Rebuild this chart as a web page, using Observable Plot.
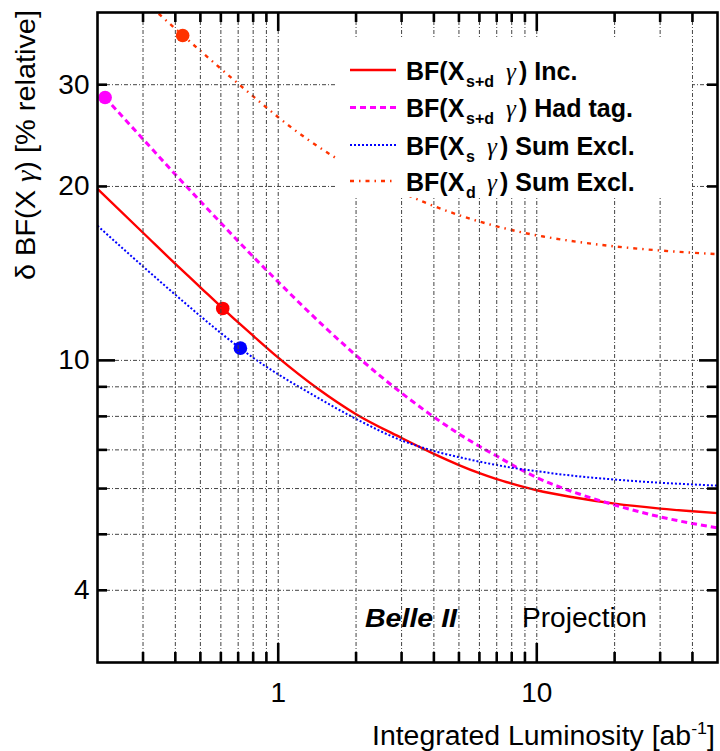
<!DOCTYPE html>
<html>
<head>
<meta charset="utf-8">
<script src="https://cdn.jsdelivr.net/npm/d3@7"></script>
<script src="https://cdn.jsdelivr.net/npm/@observablehq/plot@0.6"></script>
<style>
  html, body { margin: 0; padding: 0; background: #fff; }
  #chart svg { display: block; }
</style>
</head>
<body>
<div id="chart"></div>
<script>
// ---------------- data ----------------
// BF(X_{s+d} γ) Inc.
const incX = [0.2, 0.3, 0.4, 0.5, 0.6, 0.7, 0.8, 1.0, 1.42, 2, 3, 4, 5, 6, 7, 8, 10, 14, 20, 30, 40, 50];
const incY = [19.8, 16.63, 14.69, 13.38, 12.39, 11.63, 11.03, 10.11, 8.94, 8.07, 7.34, 6.89, 6.59, 6.38, 6.23, 6.12, 5.96, 5.79, 5.65, 5.54, 5.48, 5.44];
// BF(X_{s+d} γ) Had tag.
const hadX = [0.214, 0.3, 0.4, 0.5, 0.6, 0.7, 0.86, 1, 1.5, 2, 3, 4, 5, 6, 7, 8, 9, 10, 14, 20, 30, 40, 50];
const hadY = [28.5, 24.15, 20.98, 18.85, 17.29, 16.08, 14.63, 13.67, 11.46, 10.2, 8.78, 7.98, 7.46, 7.1, 6.83, 6.6, 6.42, 6.27, 5.91, 5.62, 5.36, 5.22, 5.13];
// BF(X_s γ) Sum Excl.
const sxX = [0.2, 0.3, 0.4, 0.5, 0.6, 0.714, 0.86, 1.0, 1.42, 2, 3, 4, 5, 6, 7, 8, 10, 14, 20, 30, 40, 50];
const sxY = [17.1, 14.54, 12.99, 11.93, 11.15, 10.49, 9.88, 9.46, 8.62, 7.92, 7.27, 6.97, 6.8, 6.68, 6.59, 6.52, 6.43, 6.31, 6.22, 6.14, 6.1, 6.07];
// BF(X_d γ) Sum Excl.
const sdX = [0.345, 0.427, 0.506, 0.604, 0.704, 0.811, 0.913, 0.997, 1.67, 3.65, 5.06, 5.95, 7, 8, 9, 10.6, 14.2, 19.7, 29.7, 39.9, 50];
const sdY = [39.8, 36.54, 34.17, 31.89, 30.06, 28.49, 27.25, 26.38, 22.4, 18.8, 17.81, 17.41, 17.06, 16.81, 16.61, 16.38, 16.05, 15.76, 15.5, 15.36, 15.27];
// current-luminosity markers
const markerX = [0.61, 0.214, 0.714, 0.427];
const markerY = [12.3, 28.5, 10.5, 36.5];

// ticks / labels
const xMinorTicks = [0.3, 0.4, 0.5, 0.6, 0.7, 0.8, 0.9, 2, 3, 4, 5, 6, 7, 8, 9, 20, 30, 40];
const xMajorTicks = [1, 10];
const xTickLabels = [1, 10];
const xGrid = [0.3, 0.4, 0.5, 0.6, 0.7, 0.8, 0.9, 1, 2, 3, 4, 5, 6, 7, 8, 9, 10, 20, 30, 40];
const yMinorTicks = [4, 5, 6, 7, 8, 9, 20, 30];
const yMajorTicks = [10];
const yTickLabels = [4, 10, 20, 30];
const yGrid = [4, 5, 6, 7, 8, 9, 10, 20, 30];

// ---------------- styles ----------------
const FONT = "'Liberation Sans', Arial, Helvetica, sans-serif";
const SERIF = "'Liberation Serif', 'DejaVu Serif', serif";
const styles = [
  {color: "#ff0000", width: 2.4, dash: null},            // Inc.
  {color: "#ff00ff", width: 3,   dash: "6,4"},           // Had tag
  {color: "#0000ff", width: 2,   dash: "2,2"},           // Xs sum excl
  {color: "#ff3300", width: 2.4, dash: "4,5,1.5,5"}      // Xd sum excl
];
const seriesXs = [incX, hadX, sxX, sdX];
const seriesYs = [incY, hadY, sxY, sdY];

const W = 720, H = 751, mL = 97, mR = 3, mT = 12, mB = 89;
const innerW = W - mL - mR, innerH = H - mT - mB;
const rows = (xs, ys) => xs.map((x, i) => ({x, y: ys[i]}));

const lineMarks = seriesXs.map((xs, k) =>
  Plot.line(rows(xs, seriesYs[k]), {
    x: "x", y: "y", curve: "monotone-x",
    stroke: styles[k].color, strokeWidth: styles[k].width,
    strokeDasharray: styles[k].dash, strokeLinecap: "butt"
  })
);
const dotMarks = markerX.map((x, k) =>
  Plot.dot([{x, y: markerY[k]}], {x: "x", y: "y", r: 6.8, fill: styles[k].color, stroke: "none"})
);

const gridStyle = {stroke: "#444", strokeWidth: 1, strokeDasharray: "4,2,1,2"};
const tickStyle = {stroke: "black", strokeWidth: 2.6};

const plot = Plot.plot({
  width: W, height: H,
  marginLeft: mL, marginRight: mR, marginTop: mT, marginBottom: mB,
  style: {background: "white", fontFamily: FONT, overflow: "visible"},
  x: {type: "log", domain: [0.2, 50], axis: null},
  y: {type: "log", domain: [3, 40], axis: null},
  marks: [
    ...lineMarks,
    ...dotMarks,
    Plot.ruleX(xGrid, {x: d => d, ...gridStyle, ariaLabel: "grid-x"}),
    Plot.ruleY(yGrid, {y: d => d, ...gridStyle, ariaLabel: "grid-y"}),
    // bottom / top ticks (inward)
    Plot.tickX(xMinorTicks, {x: d => d, insetTop: innerH - 10, ...tickStyle}),
    Plot.tickX(xMinorTicks, {x: d => d, insetBottom: innerH - 10, ...tickStyle}),
    Plot.tickX(xMajorTicks, {x: d => d, insetTop: innerH - 19, ...tickStyle}),
    Plot.tickX(xMajorTicks, {x: d => d, insetBottom: innerH - 19, ...tickStyle}),
    // left / right ticks (inward)
    Plot.tickY(yMinorTicks, {y: d => d, insetRight: innerW - 10, ...tickStyle}),
    Plot.tickY(yMinorTicks, {y: d => d, insetLeft: innerW - 10, ...tickStyle}),
    Plot.tickY(yMajorTicks, {y: d => d, insetRight: innerW - 18, ...tickStyle}),
    Plot.tickY(yMajorTicks, {y: d => d, insetLeft: innerW - 18, ...tickStyle}),
    Plot.frame({stroke: "black", strokeWidth: 2.6}),
    Plot.text(xTickLabels, {x: d => d, text: d => String(d), frameAnchor: "bottom", dy: 31,
      lineAnchor: "middle", fontSize: 28, fill: "black"}),
    Plot.text(yTickLabels, {y: d => d, text: d => String(d), frameAnchor: "left", dx: -8,
      textAnchor: "end", lineAnchor: "middle", fontSize: 28, fill: "black"})
  ]
});
document.getElementById("chart").appendChild(plot);

// ---------------- decorations: legend box, legend, titles ----------------
const svg = d3.select(plot);
const gridNode = plot.querySelector('[aria-label="grid-x"]');
const box = document.createElementNS("http://www.w3.org/2000/svg", "rect");
d3.select(box).attr("x", 337).attr("y", 38).attr("width", 355).attr("height", 159).attr("fill", "white");
if (gridNode) gridNode.parentNode.insertBefore(box, gridNode); else plot.appendChild(box);

const deco = svg.append("g").attr("font-family", FONT).attr("text-anchor", "start").attr("fill", "black");

const legendLabels = [
  {sub: "s+d", tail: ") Inc.", gx: 506},
  {sub: "s+d", tail: ") Had tag.", gx: 506},
  {sub: "s", tail: ") Sum Excl.", gx: 487},
  {sub: "d", tail: ") Sum Excl.", gx: 487}
];
const legendY = [70, 107.5, 145, 181];
legendLabels.forEach((L, k) => {
  const cy = legendY[k], st = styles[k];
  deco.append("line").attr("x1", 350).attr("x2", 396).attr("y1", cy).attr("y2", cy)
    .attr("stroke", st.color).attr("stroke-width", st.width)
    .attr("stroke-dasharray", st.dash);
  const base = cy + 9.5;
  const t = deco.append("text").attr("font-weight", "bold").attr("font-size", 25).attr("text-anchor", "start");
  t.append("tspan").attr("x", 406).attr("y", base).text("BF(X");
  t.append("tspan").attr("x", 466).attr("y", base + 7).attr("font-size", 16).text(L.sub);
  t.append("tspan").attr("x", L.gx).attr("y", base).attr("font-family", SERIF)
    .attr("font-weight", "normal").attr("font-style", "italic").text("γ");
  t.append("tspan").attr("x", L.gx + 13).attr("y", base).text(L.tail);
});

// Belle II Projection
deco.append("text").attr("x", 365).attr("y", 627).attr("text-anchor", "start")
  .attr("font-weight", "bold").attr("font-style", "italic").attr("font-size", 26)
  .attr("textLength", 92).attr("lengthAdjust", "spacingAndGlyphs").text("Belle II");
deco.append("text").attr("x", 522).attr("y", 627).attr("text-anchor", "start")
  .attr("font-size", 27).attr("textLength", 125).attr("lengthAdjust", "spacingAndGlyphs").text("Projection");

// x title
const xt = deco.append("text").attr("x", 372).attr("y", 745).attr("text-anchor", "start")
  .attr("font-size", 27).attr("textLength", 343).attr("lengthAdjust", "spacingAndGlyphs");
xt.append("tspan").text("Integrated Luminosity [ab");
xt.append("tspan").attr("font-size", 17).attr("dy", -11).text("-1");
xt.append("tspan").attr("dy", 11).text("]");

// y title
const yt = deco.append("text").attr("transform", "translate(35,280) rotate(-90)")
  .attr("text-anchor", "start").attr("font-size", 28)
  .attr("textLength", 270).attr("lengthAdjust", "spacingAndGlyphs");
yt.append("tspan").text("δ BF(X ");
yt.append("tspan").attr("font-family", SERIF).attr("font-style", "italic").text("γ");
yt.append("tspan").text(") [% relative]");
</script>
</body>
</html>
